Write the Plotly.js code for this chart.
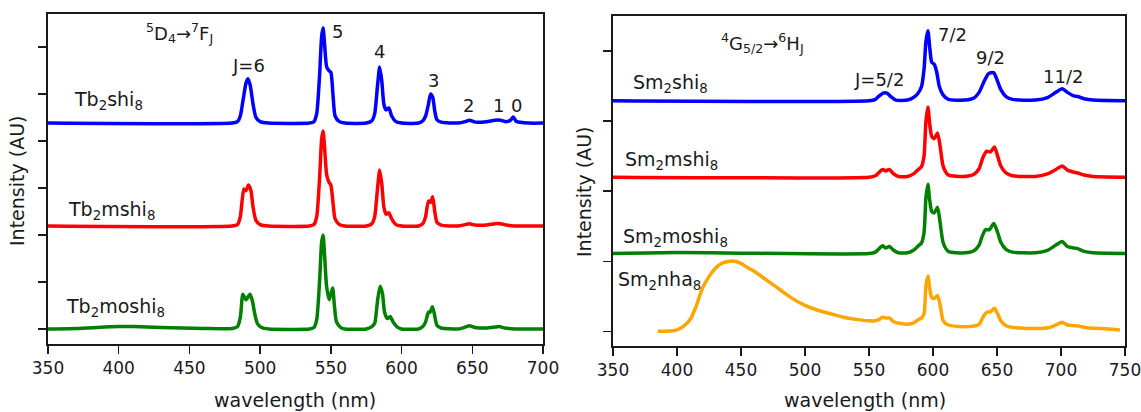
<!DOCTYPE html>
<html>
<head>
<meta charset="utf-8">
<script src="https://cdn.plot.ly/plotly-3.0.1.min.js"></script>
<style>html,body{margin:0;padding:0;background:#fff;}#chart{width:1141px;height:412px;}</style>
</head>
<body>
<div id="chart"></div>
<script>
// ---------- Data: Tb complexes (left panel), relative intensities ----------
const tbShiWl = [350,480,484,486,488,490,491.5,493,495,497,500,506,535,538,540,542,543.5,544.5,545.5,547,548.5,550,551.5,553,556,560,575,579,581,583,584.5,586,587.5,589,591,593,596,600,612,615,617,619,620.5,622,623.5,625,628,640,645,648,652,660,666,670,674,677,679,681,690,700];
const tbShiI  = [0,0,0.03,0.15,0.5,0.85,0.94,0.8,0.4,0.12,0.03,0,0,0.03,0.2,1.0,1.85,2.02,1.7,1.2,1.12,1.08,0.6,0.15,0.03,0,0,0.05,0.2,0.8,1.19,0.9,0.4,0.28,0.32,0.15,0.03,0,0,0.05,0.15,0.4,0.62,0.55,0.25,0.07,0.02,0,0.03,0.06,0.02,0.03,0.06,0.06,0.03,0.06,0.13,0.04,0,0];

const tbMshiWl = [350,480,484,486,488.5,490,491.7,493.5,495,497,500,506,535,538,540,542,543.5,544.5,545.5,547,548.5,550,551.5,553,556,560,575,579,581,583,584.5,586,587.5,589,591,593,596,600,612,615,617,619,620.5,622,623.5,625,628,640,645,648,652,660,666,670,674,680,700];
const tbMshiI  = [0,0,0.03,0.2,0.79,0.75,0.87,0.75,0.4,0.12,0.03,0,0,0.03,0.2,1.0,1.85,2.02,1.7,1.1,0.94,0.87,0.5,0.15,0.03,0,0,0.05,0.2,0.8,1.19,0.9,0.4,0.25,0.28,0.15,0.03,0,0,0.05,0.2,0.53,0.5,0.62,0.3,0.08,0.02,0,0.03,0.05,0.02,0.02,0.05,0.05,0.02,0,0];

const tbMoshiWl = [350,370,390,400,410,430,460,480,484,486,487.8,490,492.8,494.5,496,498,501,506,535,538,540,542,543.5,544.5,545.5,547,548.8,550,551.3,552.5,554,557,560,575,579,581,583,584.8,586.5,588,590,592,594,597,600,612,615,617,619,620,621.8,623.3,625,628,640,645,648,652,660,666,669,673,680,700];
const tbMoshiI  = [0,0.01,0.04,0.05,0.05,0.03,0.01,0.01,0.05,0.25,0.74,0.62,0.74,0.6,0.35,0.12,0.03,0,0,0.03,0.2,1.0,1.85,2.0,1.6,0.9,0.62,0.75,0.87,0.5,0.15,0.03,0,0,0.05,0.12,0.6,0.91,0.75,0.35,0.22,0.26,0.15,0.04,0,0,0.05,0.15,0.36,0.35,0.47,0.3,0.08,0.02,0,0.04,0.07,0.03,0.02,0.04,0.05,0.02,0,0];

// vertical stacking offsets of the Tb spectra
const tbOffsets = [4.38, 2.19, 0];

// ---------- Data: Sm complexes (right panel) ----------
const smShiWl = [350,550,555,558,561,564,567,571,580,585,588,591,593,594.5,596,597.5,599,601,603,605,608,612,625,632,636,640,643,645,647.5,650,653,657,662,680,690,696,701,705,710,713,718,725,750];
const smShiI  = [0,0,0.02,0.07,0.11,0.11,0.06,0.01,0.01,0.05,0.1,0.2,0.45,0.85,1.0,0.75,0.55,0.52,0.4,0.2,0.08,0.02,0.01,0.04,0.12,0.28,0.38,0.4,0.4,0.3,0.16,0.06,0.02,0.01,0.05,0.12,0.17,0.12,0.07,0.06,0.03,0.01,0];

const smMshiWl = [350,550,555,558,560.5,563,566,569,573,580,585,588,591,593,594.5,596,597.5,599,601,603.5,605.5,608,612,625,632,636,639,642,645,648,650.5,653,657,662,680,690,696,701,705,710,713,718,725,750];
const smMshiI  = [0,0,0.02,0.07,0.11,0.09,0.11,0.05,0.01,0.01,0.05,0.1,0.15,0.3,0.8,1.0,0.75,0.58,0.55,0.63,0.45,0.15,0.03,0.01,0.04,0.12,0.28,0.37,0.36,0.43,0.3,0.16,0.06,0.02,0.01,0.05,0.11,0.16,0.1,0.07,0.06,0.03,0.01,0];

const smMoshiWl = [350,400,450,550,555,558,560.5,563,566,569,573,580,585,588,591,593,594.5,596,597.5,599,601,603.5,605.5,608,612,625,632,636,638.5,641,644,647.5,650.5,653,657,662,680,690,696,701,705,710,713,718,725,750];
const smMoshiI  = [0,0.015,0.005,0,0.02,0.07,0.11,0.08,0.1,0.05,0.01,0.01,0.05,0.1,0.15,0.3,0.8,0.99,0.75,0.6,0.58,0.66,0.45,0.15,0.03,0.01,0.04,0.12,0.25,0.34,0.34,0.43,0.3,0.16,0.06,0.02,0.01,0.05,0.12,0.17,0.1,0.08,0.07,0.03,0.01,0];

const smNhaWl = [385,395,400,405,410,415,420,425,430,435,440,445,450,455,460,470,480,490,500,510,520,530,540,550,555,558,560.5,563,566,569,575,580,585,588,591,593,594.5,596,597.5,599,601,603.5,605.5,608,612,620,630,636,639,642,645,648,650.5,653,657,665,680,690,696,701,705,710,715,720,730,740,746];
const smNhaI  = [0,0.005,0.02,0.07,0.16,0.36,0.62,0.78,0.9,0.97,0.995,1.0,0.97,0.91,0.86,0.73,0.6,0.47,0.37,0.3,0.25,0.2,0.17,0.15,0.15,0.17,0.2,0.19,0.19,0.14,0.11,0.1,0.12,0.16,0.19,0.25,0.65,0.79,0.6,0.48,0.47,0.51,0.38,0.15,0.09,0.07,0.07,0.1,0.2,0.27,0.28,0.33,0.25,0.15,0.08,0.05,0.04,0.05,0.09,0.13,0.09,0.08,0.07,0.05,0.04,0.03,0.02];

const smOffsets = [3.29, 2.2, 1.11, 0];

const tbTicks = [350,400,450,500,550,600,650,700];
const smTicks = [350,400,450,500,550,600,650,700,750];

// ---------- Build traces ----------
const FONT = 'DejaVu Sans, Verdana, sans-serif';
const TXT = '#1a1a1a';
function tr(wl, vals, off, color, xa, ya) {
  return {
    x: wl, y: vals.map(v => v + off), type: 'scatter', mode: 'lines',
    line: {color: color, width: 3.5, shape: 'spline', smoothing: 0.6},
    xaxis: xa, yaxis: ya, hoverinfo: 'skip', showlegend: false
  };
}
const data = [
  tr(tbShiWl, tbShiI, tbOffsets[0], '#0000ff', 'x', 'y'),
  tr(tbMshiWl, tbMshiI, tbOffsets[1], '#ff0000', 'x', 'y'),
  tr(tbMoshiWl, tbMoshiI, tbOffsets[2], '#008000', 'x', 'y'),
  tr(smShiWl, smShiI, smOffsets[0], '#0000ff', 'x2', 'y2'),
  tr(smMshiWl, smMshiI, smOffsets[1], '#ff0000', 'x2', 'y2'),
  tr(smMoshiWl, smMoshiI, smOffsets[2], '#008000', 'x2', 'y2'),
  tr(smNhaWl, smNhaI, smOffsets[3], '#ffa500', 'x2', 'y2')
];

const W = 1141, H = 412;
function ann(text, px, py, size, anchor, extra) {
  return Object.assign({
    xref: 'paper', yref: 'paper', x: px / W, y: 1 - py / H,
    xanchor: anchor || 'left', yanchor: 'middle', showarrow: false,
    text: text, font: {family: FONT, size: size, color: TXT}
  }, extra || {});
}

const annotations = [
  ann('<sup>5</sup>D<sub>4</sub>→<sup>7</sup>F<sub>J</sub>', 144, 33, 18),
  ann('Tb<sub>2</sub>shi<sub>8</sub>', 72, 100, 19),
  ann('Tb<sub>2</sub>mshi<sub>8</sub>', 66, 210, 19),
  ann('Tb<sub>2</sub>moshi<sub>8</sub>', 64, 307, 19),
  ann('J=6', 248, 65, 18, 'center'),
  ann('5', 337, 32, 18, 'center'),
  ann('4', 379, 52, 18, 'center'),
  ann('3', 433, 80, 18, 'center'),
  ann('2', 468, 105, 18, 'center'),
  ann('1', 498, 105, 18, 'center'),
  ann('0', 516, 105, 18, 'center'),
  ann('<sup>4</sup>G<sub>5/2</sub>→<sup>6</sup>H<sub>J</sub>', 719, 43, 18),
  ann('Sm<sub>2</sub>shi<sub>8</sub>', 631, 83, 19),
  ann('Sm<sub>2</sub>mshi<sub>8</sub>', 623, 160, 19),
  ann('Sm<sub>2</sub>moshi<sub>8</sub>', 621, 237, 19),
  ann('Sm<sub>2</sub>nha<sub>8</sub>', 616, 280, 19),
  ann('J=5/2', 879, 79, 18, 'center'),
  ann('7/2', 952, 35, 18, 'center'),
  ann('9/2', 990, 58, 18, 'center'),
  ann('11/2', 1063, 76, 18, 'center'),
  ann('Intensity (AU)', 17, 181, 19, 'center', {textangle: -90}),
  ann('Intensity (AU)', 584, 192, 19, 'center', {textangle: -90}),
  ann('wavelength (nm)', 295, 400, 19, 'center'),
  ann('wavelength (nm)', 865, 400, 19, 'center')
];

const axCommon = {
  showgrid: false, zeroline: false, showline: true, linecolor: '#1a1a1a', linewidth: 1.6,
  mirror: true, ticks: 'outside', ticklen: 8, tickwidth: 1.4, tickcolor: '#1a1a1a',
  ticklabeloverflow: 'allow',
  tickfont: {family: FONT, size: 17, color: TXT}
};

const layout = {
  width: W, height: H,
  margin: {l: 0, r: 0, t: 0, b: 0},
  paper_bgcolor: '#ffffff', plot_bgcolor: '#ffffff',
  showlegend: false,
  xaxis: Object.assign({}, axCommon, {domain: [48 / W, 543 / W], range: [350, 700], tickmode: 'array', tickvals: tbTicks, ticktext: tbTicks.map(String), anchor: 'y'}),
  yaxis: Object.assign({}, axCommon, {domain: [(H - 344) / H, (H - 14) / H], range: [-0.32, 6.70], tick0: 0, dtick: 1, showticklabels: false, anchor: 'x'}),
  xaxis2: Object.assign({}, axCommon, {domain: [613 / W, 1125 / W], range: [350, 750], tickmode: 'array', tickvals: smTicks, ticktext: smTicks.map(String), anchor: 'y2'}),
  yaxis2: Object.assign({}, axCommon, {domain: [(H - 346) / H, (H - 16) / H], range: [-0.21, 4.5], tick0: 0, dtick: 1, showticklabels: false, anchor: 'x2'}),
  annotations: annotations
};

Plotly.newPlot('chart', data, layout, {staticPlot: true, displayModeBar: false});
</script>
</body>
</html>
